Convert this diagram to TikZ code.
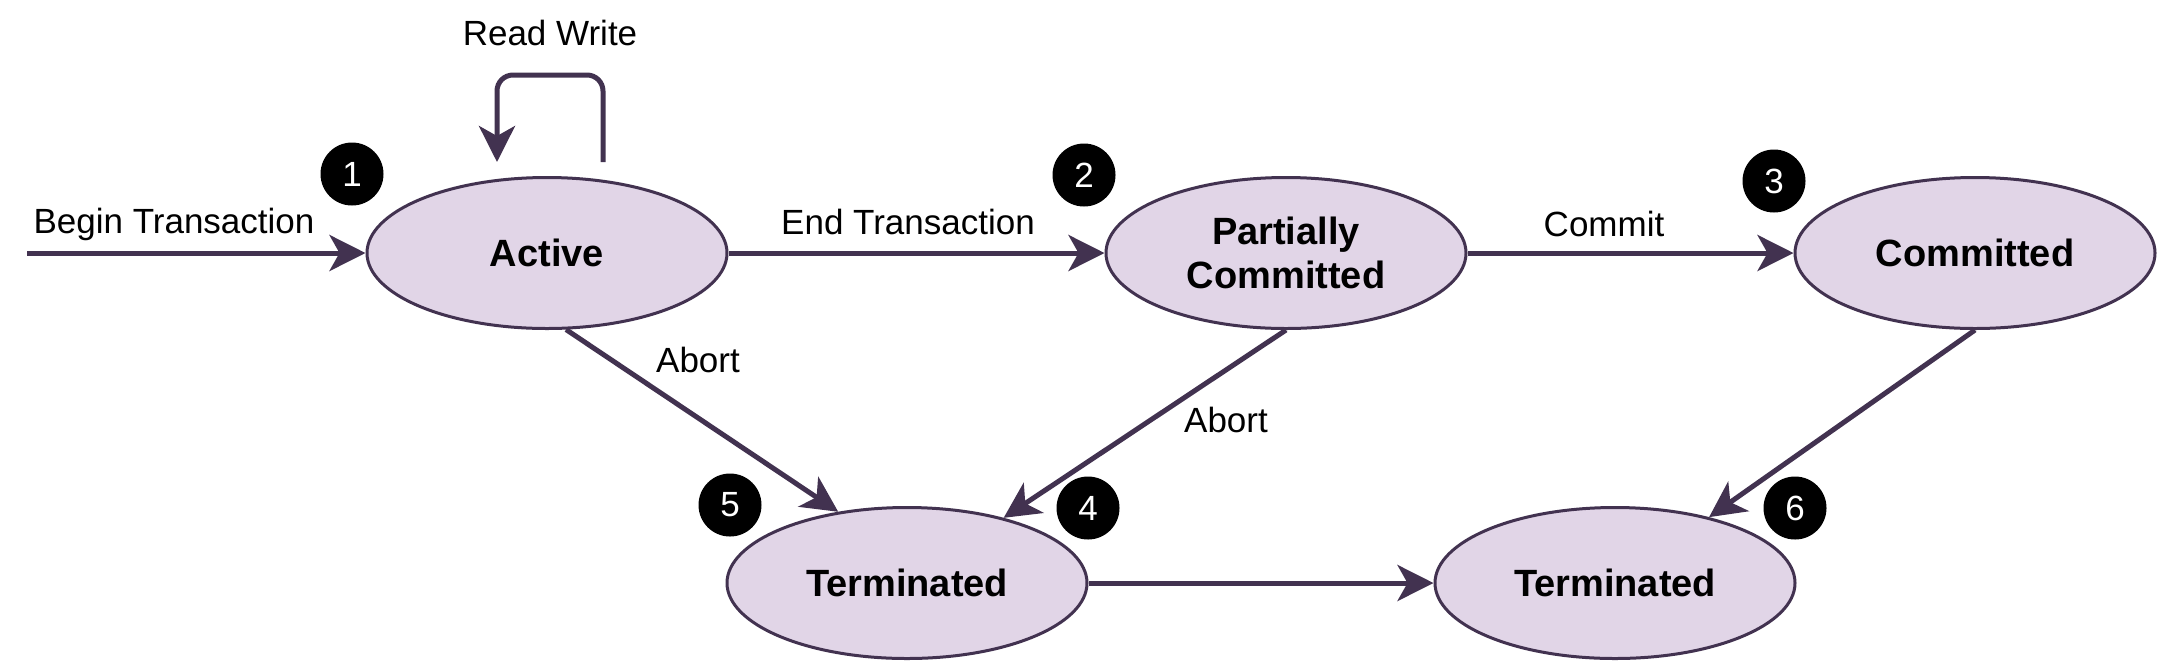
\documentclass[tikz,border=0pt]{standalone}
\usepackage{fontspec}
\setmainfont{Liberation Sans}
\usetikzlibrary{shapes.geometric,arrows.meta}
\definecolor{edgec}{RGB}{66,50,80}
\definecolor{fillc}{HTML}{E1D5E7}
\tikzset{
  state/.style={ellipse, draw=edgec, fill=fillc, line width=1.5pt,
    minimum width=180pt, minimum height=75.5pt, inner sep=0pt, align=center,
    font=\fontsize{19}{22}\selectfont\bfseries},
  conn/.style={draw=edgec, line width=2.5pt,
    -{Stealth[length=18pt,width=18pt,inset=5pt]}},
  lbl/.style={font=\fontsize{17.5}{21}\selectfont, inner sep=0pt},
  badge/.style={circle, fill=black, minimum size=31.5pt, inner sep=0pt,
    text=white, font=\fontsize{17.5}{21}\selectfont}
}
\begin{document}
\begin{tikzpicture}[x=0.5pt,y=-0.5pt]
\useasboundingbox (0,0) rectangle (2157,660);
% states
\node[state] (act) at (547,253) {Active};
\node[state] (pc)  at (1286,253) {Partially\\Committed};
\node[state] (com) at (1975,253) {Committed};
\node[state] (t1)  at (907,583) {Terminated};
\node[state] (t2)  at (1615,583) {Terminated};
% badges
\node[badge] (b1) at (352,174) {1};
\node[badge] (b2) at (1084,175) {2};
\node[badge] (b3) at (1774,181) {3};
\node[badge] (b4) at (1088,508) {4};
\node[badge] (b5) at (730,505) {5};
\node[badge] (b6) at (1795,508) {6};
% free ends
\coordinate (start) at (27,253);
\coordinate (loopS) at (603,162);
\coordinate (loopE) at (497,162);
% connectors
\draw[conn] (start) -- (act.west);
\draw[conn, rounded corners=8pt] (loopS) -- (603,75) -- (497,75) -- (loopE);
\draw[conn] (act.east) -- (pc.west);
\draw[conn] (pc.east) -- (com.west);
\draw[conn] (act.-76) -- (t1.134);
\draw[conn] (pc.south) -- (t1.34);
\draw[conn] (com.south) -- (t2.35);
\draw[conn] (t1.east) -- (t2.west);
% labels
\node[lbl] (lrw) at (550,33) {Read Write};
\node[lbl] (lbt) at (174,224) {Begin Transaction};
\node[lbl] (let) at (908,222) {End Transaction};
\node[lbl] (lcm) at (1604,224) {Commit};
\node[lbl] (lab1) at (698,360) {Abort};
\node[lbl] (lab2) at (1226,420) {Abort};
\end{tikzpicture}
\end{document}
